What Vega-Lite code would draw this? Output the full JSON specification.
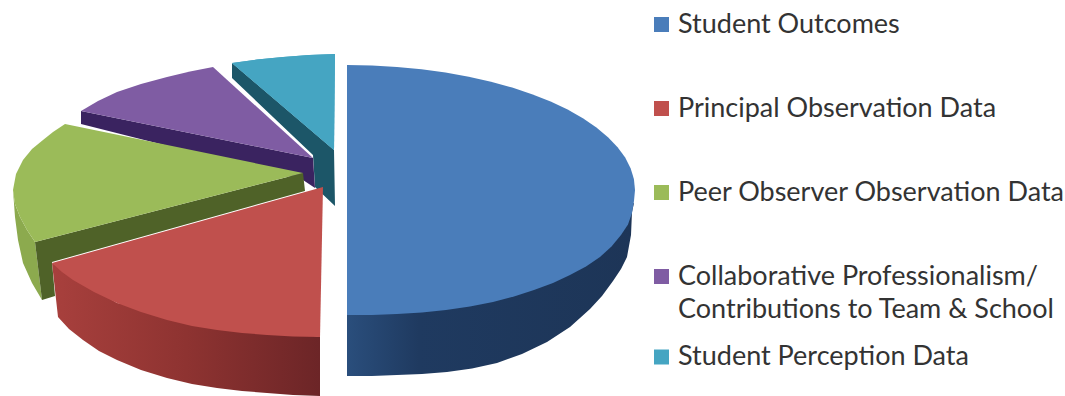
{
  "$schema": "https://vega.github.io/schema/vega-lite/v6.json",
  "width": 1065,
  "height": 396,
  "padding": 0,
  "autosize": {"type": "none"},
  "background": "white",
  "config": {"view": {"stroke": null}, "style": {"guide-label": {"lineHeight": 33}}},
  "datasets": {
    "walls": [
      {"wall":"teal","step":1,"x":232,"y":63},{"wall":"teal","step":2,"x":334,"y":150},{"wall":"teal","step":3,"x":335,"y":206},{"wall":"teal","step":4,"x":315,"y":187},{"wall":"teal","step":5,"x":313,"y":155},{"wall":"teal","step":6,"x":232,"y":78},
      {"wall":"purple","step":1,"x":81,"y":111},{"wall":"purple","step":2,"x":313,"y":158},{"wall":"purple","step":3,"x":315,"y":188},{"wall":"purple","step":4,"x":303,"y":180},{"wall":"purple","step":5,"x":81,"y":124},
      {"wall":"greenRim","step":1,"x":13,"y":190},{"wall":"greenRim","step":2,"x":15,"y":204},{"wall":"greenRim","step":3,"x":20,"y":217},{"wall":"greenRim","step":4,"x":27,"y":230},{"wall":"greenRim","step":5,"x":35,"y":242},{"wall":"greenRim","step":6,"x":42,"y":300},{"wall":"greenRim","step":7,"x":32,"y":283},{"wall":"greenRim","step":8,"x":23,"y":263},{"wall":"greenRim","step":9,"x":18,"y":240},{"wall":"greenRim","step":10,"x":15,"y":217},
      {"wall":"green","step":1,"x":35,"y":242},{"wall":"green","step":2,"x":303,"y":173},{"wall":"green","step":3,"x":305,"y":191},{"wall":"green","step":4,"x":52,"y":262},{"wall":"green","step":5,"x":55,"y":296},{"wall":"green","step":6,"x":42,"y":300},
      {"wall":"red","step":1,"x":52,"y":263},{"wall":"red","step":2,"x":117,"y":303},{"wall":"red","step":3,"x":320,"y":337},{"wall":"red","step":4,"x":320,"y":396},{"wall":"red","step":5,"x":293,"y":395},{"wall":"red","step":6,"x":267,"y":393},{"wall":"red","step":7,"x":242,"y":391},{"wall":"red","step":8,"x":217,"y":388},{"wall":"red","step":9,"x":192,"y":384},{"wall":"red","step":10,"x":167,"y":378},{"wall":"red","step":11,"x":141,"y":370},{"wall":"red","step":12,"x":117,"y":360},{"wall":"red","step":13,"x":99,"y":351},{"wall":"red","step":14,"x":83,"y":340},{"wall":"red","step":15,"x":69,"y":329},{"wall":"red","step":16,"x":58,"y":317},
      {"wall":"blue","step":1,"x":347,"y":300},{"wall":"blue","step":2,"x":634,"y":203},{"wall":"blue","step":3,"x":632,"y":212},{"wall":"blue","step":4,"x":631,"y":235},{"wall":"blue","step":5,"x":627,"y":257},{"wall":"blue","step":6,"x":621,"y":269},{"wall":"blue","step":7,"x":613,"y":281},{"wall":"blue","step":8,"x":602,"y":296},{"wall":"blue","step":9,"x":590,"y":309},{"wall":"blue","step":10,"x":570,"y":327},{"wall":"blue","step":11,"x":547,"y":342},{"wall":"blue","step":12,"x":522,"y":354},{"wall":"blue","step":13,"x":497,"y":363},{"wall":"blue","step":14,"x":472,"y":368.5},{"wall":"blue","step":15,"x":447,"y":372},{"wall":"blue","step":16,"x":422,"y":374},{"wall":"blue","step":17,"x":397,"y":375},{"wall":"blue","step":18,"x":372,"y":376},{"wall":"blue","step":19,"x":347,"y":376}
    ],
    "tops": [
      {"slice":"Student Perception Data","step":1,"x":232,"y":63},{"slice":"Student Perception Data","step":2,"x":257,"y":59.5},{"slice":"Student Perception Data","step":3,"x":283,"y":57},{"slice":"Student Perception Data","step":4,"x":309,"y":55},{"slice":"Student Perception Data","step":5,"x":335,"y":54},{"slice":"Student Perception Data","step":6,"x":334,"y":150},
      {"slice":"Collaborative Professionalism/ Contributions to Team & School","step":1,"x":81,"y":111},{"slice":"Collaborative Professionalism/ Contributions to Team & School","step":2,"x":98,"y":101},{"slice":"Collaborative Professionalism/ Contributions to Team & School","step":3,"x":117,"y":92},{"slice":"Collaborative Professionalism/ Contributions to Team & School","step":4,"x":141,"y":84},{"slice":"Collaborative Professionalism/ Contributions to Team & School","step":5,"x":167,"y":77},{"slice":"Collaborative Professionalism/ Contributions to Team & School","step":6,"x":190,"y":71.5},{"slice":"Collaborative Professionalism/ Contributions to Team & School","step":7,"x":213,"y":67},{"slice":"Collaborative Professionalism/ Contributions to Team & School","step":8,"x":313,"y":158},
      {"slice":"Peer Observer Observation Data","step":1,"x":65,"y":124},{"slice":"Peer Observer Observation Data","step":2,"x":53,"y":132},{"slice":"Peer Observer Observation Data","step":3,"x":43,"y":140},{"slice":"Peer Observer Observation Data","step":4,"x":32,"y":149},{"slice":"Peer Observer Observation Data","step":5,"x":23,"y":160},{"slice":"Peer Observer Observation Data","step":6,"x":16,"y":174},{"slice":"Peer Observer Observation Data","step":7,"x":13,"y":190},{"slice":"Peer Observer Observation Data","step":8,"x":15,"y":204},{"slice":"Peer Observer Observation Data","step":9,"x":20,"y":217},{"slice":"Peer Observer Observation Data","step":10,"x":27,"y":230},{"slice":"Peer Observer Observation Data","step":11,"x":35,"y":242},{"slice":"Peer Observer Observation Data","step":12,"x":303,"y":173},
      {"slice":"Principal Observation Data","step":1,"x":323,"y":187},{"slice":"Principal Observation Data","step":2,"x":52,"y":263},{"slice":"Principal Observation Data","step":3,"x":62,"y":272},{"slice":"Principal Observation Data","step":4,"x":73,"y":280},{"slice":"Principal Observation Data","step":5,"x":94,"y":292},{"slice":"Principal Observation Data","step":6,"x":117,"y":303},{"slice":"Principal Observation Data","step":7,"x":141,"y":312},{"slice":"Principal Observation Data","step":8,"x":167,"y":320},{"slice":"Principal Observation Data","step":9,"x":192,"y":326},{"slice":"Principal Observation Data","step":10,"x":217,"y":330},{"slice":"Principal Observation Data","step":11,"x":242,"y":333},{"slice":"Principal Observation Data","step":12,"x":267,"y":335},{"slice":"Principal Observation Data","step":13,"x":293,"y":336.5},{"slice":"Principal Observation Data","step":14,"x":320,"y":337},
      {"slice":"Student Outcomes","step":1,"x":347,"y":65},{"slice":"Student Outcomes","step":2,"x":372,"y":65.5},{"slice":"Student Outcomes","step":3,"x":397,"y":66.9},{"slice":"Student Outcomes","step":4,"x":421.5,"y":69.3},{"slice":"Student Outcomes","step":5,"x":445.5,"y":72.5},{"slice":"Student Outcomes","step":6,"x":468.7,"y":76.7},{"slice":"Student Outcomes","step":7,"x":491,"y":81.7},{"slice":"Student Outcomes","step":8,"x":512.2,"y":87.6},{"slice":"Student Outcomes","step":9,"x":532,"y":94.2},{"slice":"Student Outcomes","step":10,"x":550.6,"y":101.6},{"slice":"Student Outcomes","step":11,"x":567.6,"y":109.6},{"slice":"Student Outcomes","step":12,"x":582.9,"y":118.3},{"slice":"Student Outcomes","step":13,"x":596.4,"y":127.5},{"slice":"Student Outcomes","step":14,"x":608,"y":137.2},{"slice":"Student Outcomes","step":15,"x":617.6,"y":147.2},{"slice":"Student Outcomes","step":16,"x":625.2,"y":157.6},{"slice":"Student Outcomes","step":17,"x":630.6,"y":168.3},{"slice":"Student Outcomes","step":18,"x":633.9,"y":179.1},{"slice":"Student Outcomes","step":19,"x":635,"y":190},{"slice":"Student Outcomes","step":20,"x":634,"y":201},{"slice":"Student Outcomes","step":21,"x":632,"y":213},{"slice":"Student Outcomes","step":22,"x":628,"y":224.5},{"slice":"Student Outcomes","step":23,"x":621,"y":235},{"slice":"Student Outcomes","step":24,"x":611.5,"y":246.5},{"slice":"Student Outcomes","step":25,"x":600,"y":257},{"slice":"Student Outcomes","step":26,"x":586,"y":266.5},{"slice":"Student Outcomes","step":27,"x":570,"y":275},{"slice":"Student Outcomes","step":28,"x":553,"y":283},{"slice":"Student Outcomes","step":29,"x":534,"y":290},{"slice":"Student Outcomes","step":30,"x":514,"y":296.5},{"slice":"Student Outcomes","step":31,"x":493,"y":302},{"slice":"Student Outcomes","step":32,"x":470,"y":306.5},{"slice":"Student Outcomes","step":33,"x":446,"y":310},{"slice":"Student Outcomes","step":34,"x":422,"y":312.5},{"slice":"Student Outcomes","step":35,"x":397,"y":314},{"slice":"Student Outcomes","step":36,"x":372,"y":315},{"slice":"Student Outcomes","step":37,"x":347,"y":315}
    ]
  },
  "encoding": {
    "x": {"field":"x","type":"quantitative","axis":null,"scale":{"domain":[0,1065],"nice":false,"zero":false}},
    "y": {"field":"y","type":"quantitative","axis":null,"scale":{"domain":[0,396],"nice":false,"zero":false,"reverse":true}},
    "order": {"field":"step","type":"quantitative"}
  },
  "layer": [
    {"data":{"name":"walls"},"transform":[{"filter":"datum.wall==='teal'"}],"mark":{"type":"line","fill":"#1C5668","strokeWidth":0}},
    {"data":{"name":"walls"},"transform":[{"filter":"datum.wall==='purple'"}],"mark":{"type":"line","fill":"#3A2360","strokeWidth":0}},
    {"data":{"name":"walls"},"transform":[{"filter":"datum.wall==='greenRim'"}],"mark":{"type":"line","fill":"#8CAA4E","strokeWidth":0}},
    {"data":{"name":"walls"},"transform":[{"filter":"datum.wall==='green'"}],"mark":{"type":"line","fill":"#4F6228","strokeWidth":0}},
    {"data":{"name":"walls"},"transform":[{"filter":"datum.wall==='red'"}],"mark":{"type":"line","strokeWidth":0,"fill":{"gradient":"linear","x1":0,"x2":1,"y1":0,"y2":0,"stops":[{"offset":0,"color":"#A8403D"},{"offset":0.5,"color":"#8E3331"},{"offset":1,"color":"#6C2527"}]}}},
    {"data":{"name":"walls"},"transform":[{"filter":"datum.wall==='blue'"}],"mark":{"type":"line","strokeWidth":0,"fill":{"gradient":"linear","x1":0,"x2":1,"y1":0,"y2":0,"stops":[{"offset":0,"color":"#2A4E7C"},{"offset":0.25,"color":"#1F3A60"},{"offset":1,"color":"#1D3557"}]}}},
    {"data":{"name":"tops"},"mark":{"type":"line","strokeWidth":0},
     "encoding":{"fill":{"field":"slice","type":"nominal",
       "scale":{"domain":["Student Outcomes","Principal Observation Data","Peer Observer Observation Data","Collaborative Professionalism/ Contributions to Team & School","Student Perception Data"],
                "range":["#4A7DBA","#C0504D","#9BBB59","#7F5CA3","#45A5C2"]},
       "legend":{"title":null,"orient":"none","legendX":648,"legendY":11,"symbolType":"square","symbolSize":225,"symbolStrokeWidth":0,"symbolOpacity":1,"labelFont":"Lato","labelFontSize":27,"labelColor":"#333333","labelLimit":500,"labelOffset":3,"rowPadding":56,
                 "values":["Student Outcomes","Principal Observation Data","Peer Observer Observation Data","Collaborative Professionalism/ Contributions to Team & School"],
                 "labelExpr":"split(replace(datum.label,'/ ','/|'),'|')"}}}},
    {"data":{"name":"tops"},"transform":[{"filter":"datum.slice==='Student Perception Data'"}],"mark":{"type":"line","strokeWidth":0,"fill":"#45A5C2"},
     "encoding":{"stroke":{"field":"slice","type":"nominal","scale":{"domain":["Student Perception Data"],"range":["#45A5C2"]},
       "legend":{"title":null,"orient":"none","legendX":648,"legendY":343.5,"symbolType":"square","symbolSize":225,"symbolStrokeWidth":0,"symbolFillColor":"#45A5C2","symbolOpacity":1,"labelFont":"Lato","labelFontSize":27,"labelColor":"#333333","labelLimit":500,"labelOffset":3}}}}
  ]
}
